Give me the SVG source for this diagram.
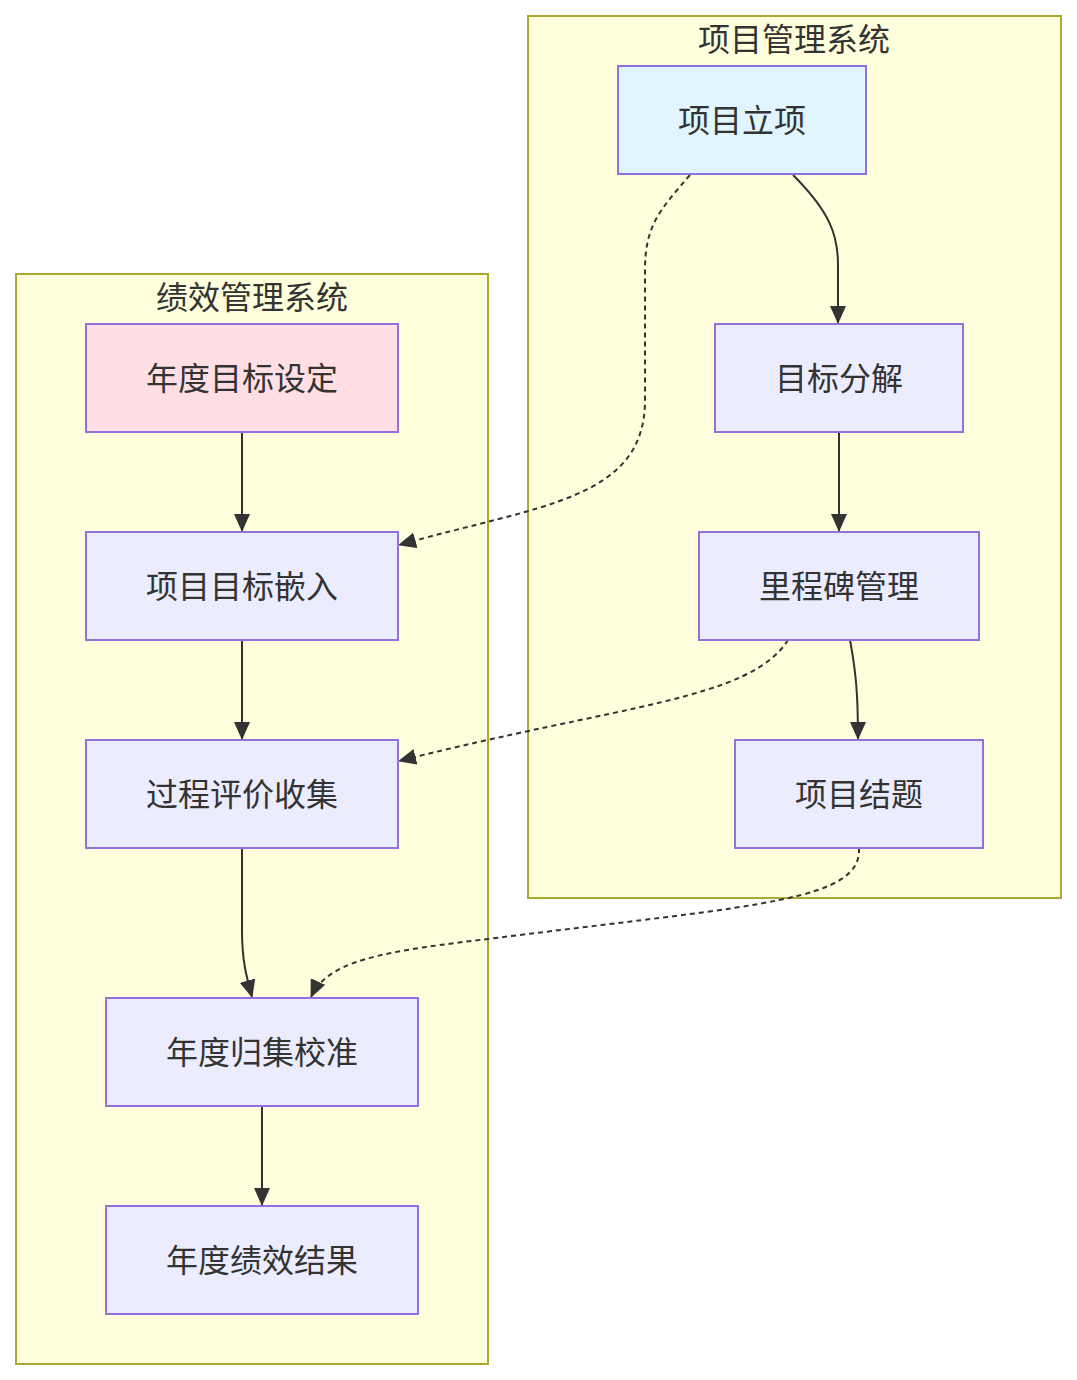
<svg xmlns="http://www.w3.org/2000/svg" width="1077" height="1380" viewBox="0 0 1077 1380">
<style>
.cl{fill:#ffffde;stroke:#aaaa33;stroke-width:2}
.nd{fill:#ececff;stroke:#9370db;stroke-width:2}
.t{font-family:"Noto Sans CJK SC","Noto Sans",sans-serif;font-size:32px;fill:#333;text-anchor:middle;dominant-baseline:central}
.e{fill:none;stroke:#333;stroke-width:2}
.d{stroke-dasharray:5 4}
</style>
<defs>
<marker id="ah" viewBox="0 0 18 16" refX="17" refY="8" markerWidth="18" markerHeight="16" markerUnits="userSpaceOnUse" orient="auto">
<path d="M0,0 L18,8 L0,16 z" fill="#333"/>
</marker>
</defs>
<rect width="1077" height="1380" fill="#fff"/>
<g id="cluster-pm">
<rect class="cl" x="528" y="16" width="533" height="882"/>
<text class="t" x="794" y="37">项目管理系统</text>
</g>
<g id="cluster-perf">
<rect class="cl" x="16" y="274" width="472" height="1090"/>
<text class="t" x="252" y="295">绩效管理系统</text>
</g>
<g id="connectors">
<path class="e" d="M793,175 C830,212 838,235 838,265 L838,323" marker-end="url(#ah)"/>
<path class="e" d="M839,432 L839,531" marker-end="url(#ah)"/>
<path class="e" d="M850,640 C856,672 858,695 858,739" marker-end="url(#ah)"/>
<path class="e d" d="M690,175 C660,210 645,225 645,270 L645,400 C645,500 540,505 399,545" marker-end="url(#ah)"/>
<path class="e d" d="M788,640 C750,700 620,705 399,761" marker-end="url(#ah)"/>
<path class="e d" d="M859,848 C862,900 760,905 520,935 C400,950 330,955 311,997" marker-end="url(#ah)"/>
<path class="e" d="M242,432 L242,531" marker-end="url(#ah)"/>
<path class="e" d="M242,640 L242,739" marker-end="url(#ah)"/>
<path class="e" d="M242,848 L242,930 C242,960 246,975 252,997" marker-end="url(#ah)"/>
<path class="e" d="M262,1106 L262,1205" marker-end="url(#ah)"/>
</g>
<g id="n-lixiang"><rect class="nd" x="618" y="66" width="248" height="108" style="fill:#e1f5fe"/><text class="t" x="742" y="118">项目立项</text></g>
<g id="n-fenjie"><rect class="nd" x="715" y="324" width="248" height="108"/><text class="t" x="839" y="376">目标分解</text></g>
<g id="n-lichengbei"><rect class="nd" x="699" y="532" width="280" height="108"/><text class="t" x="839" y="584">里程碑管理</text></g>
<g id="n-jieti"><rect class="nd" x="735" y="740" width="248" height="108"/><text class="t" x="859" y="792">项目结题</text></g>
<g id="n-mubiao"><rect class="nd" x="86" y="324" width="312" height="108" style="fill:#ffdfe3"/><text class="t" x="242" y="376">年度目标设定</text></g>
<g id="n-qianru"><rect class="nd" x="86" y="532" width="312" height="108"/><text class="t" x="242" y="584">项目目标嵌入</text></g>
<g id="n-pingjia"><rect class="nd" x="86" y="740" width="312" height="108"/><text class="t" x="242" y="792">过程评价收集</text></g>
<g id="n-guiji"><rect class="nd" x="106" y="998" width="312" height="108"/><text class="t" x="262" y="1050">年度归集校准</text></g>
<g id="n-jieguo"><rect class="nd" x="106" y="1206" width="312" height="108"/><text class="t" x="262" y="1258">年度绩效结果</text></g>
</svg>
